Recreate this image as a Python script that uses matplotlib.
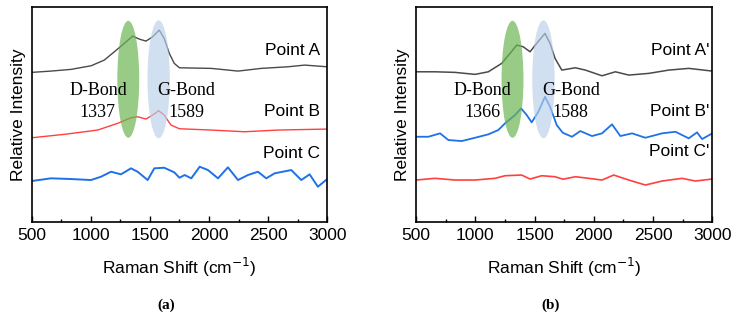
import matplotlib
matplotlib.use("Agg")
import matplotlib.pyplot as plt
from matplotlib.patches import Ellipse

# ---- data (intensity in arbitrary units) ----
# panel (a)
a_x_A = [500, 663, 832, 1002, 1114, 1199, 1283, 1354, 1410, 1467, 1523, 1579, 1621, 1664, 1706, 1750,
         2019, 2245, 2442, 2668, 2809, 3000]
a_y_A = [149.4, 150.7, 152.4, 156, 161.7, 170, 178.4, 185.7, 182.7, 180.7, 185, 191.7, 183.4, 168.4, 158.4, 154,
         153.4, 150.7, 153.4, 155, 156.7, 155]

a_x_B = [500, 776, 1058, 1227, 1340, 1396, 1467, 1523, 1574, 1621, 1678, 1750, 2019, 2301, 2583, 3000]
a_y_B = [84, 87.4, 91.7, 98.4, 104, 105, 102.7, 106.7, 111, 106.7, 96.7, 93, 91.7, 90, 91.7, 92.7]

a_x_C = [500, 663, 832, 1002, 1086, 1171, 1255, 1340, 1396, 1481, 1537, 1621, 1706, 1750, 1794, 1850,
         1921, 1991, 2076, 2160, 2245, 2329, 2414, 2484, 2555, 2696, 2780, 2851, 2921, 3000]
a_y_C = [40.7, 43.4, 42.7, 41.7, 45, 50, 47.4, 53.4, 50, 41.7, 53.4, 54, 49.4, 44, 46.7, 43.4,
         55, 51.7, 43.4, 54.4, 41.7, 46.7, 50, 43.4, 48.4, 51.7, 41.7, 47.4, 35, 42.7]

# panel (b)
b_x_A = [500, 660, 829, 998, 1110, 1223, 1293, 1350, 1405, 1462, 1518, 1588, 1631, 1673, 1730,
         1844, 1929, 2069, 2182, 2295, 2464, 2633, 2801, 3000]
b_y_A = [150, 150, 149.4, 147.4, 150, 158.4, 168.4, 176.7, 175, 170, 178.4, 188.4, 178.4, 163.4, 151.7,
         154, 151.7, 146, 150, 146.7, 148.4, 151.7, 153.4, 150.7]

b_x_B = [500, 604, 703, 773, 886, 998, 1110, 1194, 1251, 1335, 1386, 1434, 1476, 1532, 1588, 1631, 1687,
         1738, 1816, 1886, 1985, 2069, 2154, 2224, 2323, 2435, 2576, 2689, 2801, 2871, 2914, 3000]
b_y_B = [85, 85, 88.4, 81.7, 80.7, 84, 87.4, 91.7, 98.4, 106.7, 113.4, 106.7, 99.4, 110, 125, 115, 96.7,
         89, 85, 90.7, 85.7, 88.4, 97.4, 85.7, 88.4, 84, 88.4, 90, 83.4, 89.4, 82.7, 88.4]

b_x_C = [500, 660, 829, 998, 1167, 1251, 1391, 1462, 1560, 1673, 1740, 1844, 1957, 2069, 2168, 2295,
         2435, 2576, 2745, 2857, 3000]
b_y_C = [41.7, 43.4, 41.7, 41.7, 43.4, 46, 46.7, 42.7, 46, 45, 42.5, 45, 43.4, 41.7, 46.7, 41.7,
         36.7, 40.7, 43.4, 40.7, 42.7]

# band highlight centres and labels
a_band_x = [1317, 1574]
b_band_x = [1314, 1575]
a_band_txt = ["D-Bond\n1337", "G-Bond\n1589"]
b_band_txt = ["D-Bond\n1366", "G-Bond\n1588"]
a_names = ["Point A", "Point B", "Point C"]
b_names = ["Point A'", "Point B'", "Point C'"]

black = "#4a4a4a"
red = "#ff4040"
blue = "#1f72e6"
green_fill = "#6db552"
blue_fill = "#b9d0ea"

fig = plt.figure(figsize=(7.37, 3.17), dpi=100)
ax1 = fig.add_axes([0.043, 0.3006, 0.401, 0.676])
ax2 = fig.add_axes([0.5645, 0.3006, 0.402, 0.676])


def setup(ax, series, band_x, band_txt, names, name_x, label_y, cap):
    for x, y, c, lw in series:
        ax.plot(x, y, color=c, lw=lw)
    ax.add_patch(Ellipse((band_x[0], 142.5), 185, 117, color=green_fill, alpha=0.7, lw=0, zorder=3))
    ax.add_patch(Ellipse((band_x[1], 142.5), 189, 118, color=blue_fill, alpha=0.65, lw=0, zorder=3))
    ax.text(1060, 120, band_txt[0], family="Liberation Serif", fontsize=13, ha="center", va="center",
            linespacing=1.4)
    ax.text(1805, 120, band_txt[1], family="Liberation Serif", fontsize=13, ha="center", va="center",
            linespacing=1.4)
    for n, yy in zip(names, label_y):
        ax.text(name_x, yy, n, family="Liberation Sans", fontsize=12.5, ha="right", va="center")
    ax.set_xlim(500, 3000)
    ax.set_ylim(0, 214.4)
    ax.set_xticks([500, 1000, 1500, 2000, 2500, 3000])
    ax.set_xticks([750, 1250, 1750, 2250, 2750], minor=True)
    ax.set_yticks([])
    ax.tick_params(axis="x", which="major", direction="in", length=4, width=1, pad=4.5)
    ax.tick_params(axis="x", which="minor", direction="in", length=2.5, width=1)
    for lab in ax.get_xticklabels():
        lab.set_family("Liberation Sans")
        lab.set_fontsize(12.5)
    for s in ax.spines.values():
        s.set_linewidth(1.2)
    ax.set_xlabel("Raman Shift (cm$^{-1}$)", family="Liberation Sans", fontsize=12.5)
    ax.xaxis.set_label_coords(0.5, -0.16)
    ax.set_ylabel("Relative Intensity", family="Liberation Sans", fontsize=12.5)
    ax.yaxis.set_label_coords(-0.02, 0.5)
    ax.text(0.455, -0.39, cap, transform=ax.transAxes, family="Liberation Serif", fontsize=11,
            fontweight="bold", ha="center", va="center")


setup(ax1, [(a_x_A, a_y_A, black, 1.0), (a_x_B, a_y_B, red, 1.0), (a_x_C, a_y_C, blue, 1.4)],
      a_band_x, a_band_txt, a_names, 2940, [171.7, 110, 68.4], "(a)")
setup(ax2, [(b_x_A, b_y_A, black, 1.1), (b_x_B, b_y_B, blue, 1.3), (b_x_C, b_y_C, red, 1.2)],
      b_band_x, b_band_txt, b_names, 2975, [171.7, 110.7, 70], "(b)")

fig.savefig("out.png", dpi=100)
